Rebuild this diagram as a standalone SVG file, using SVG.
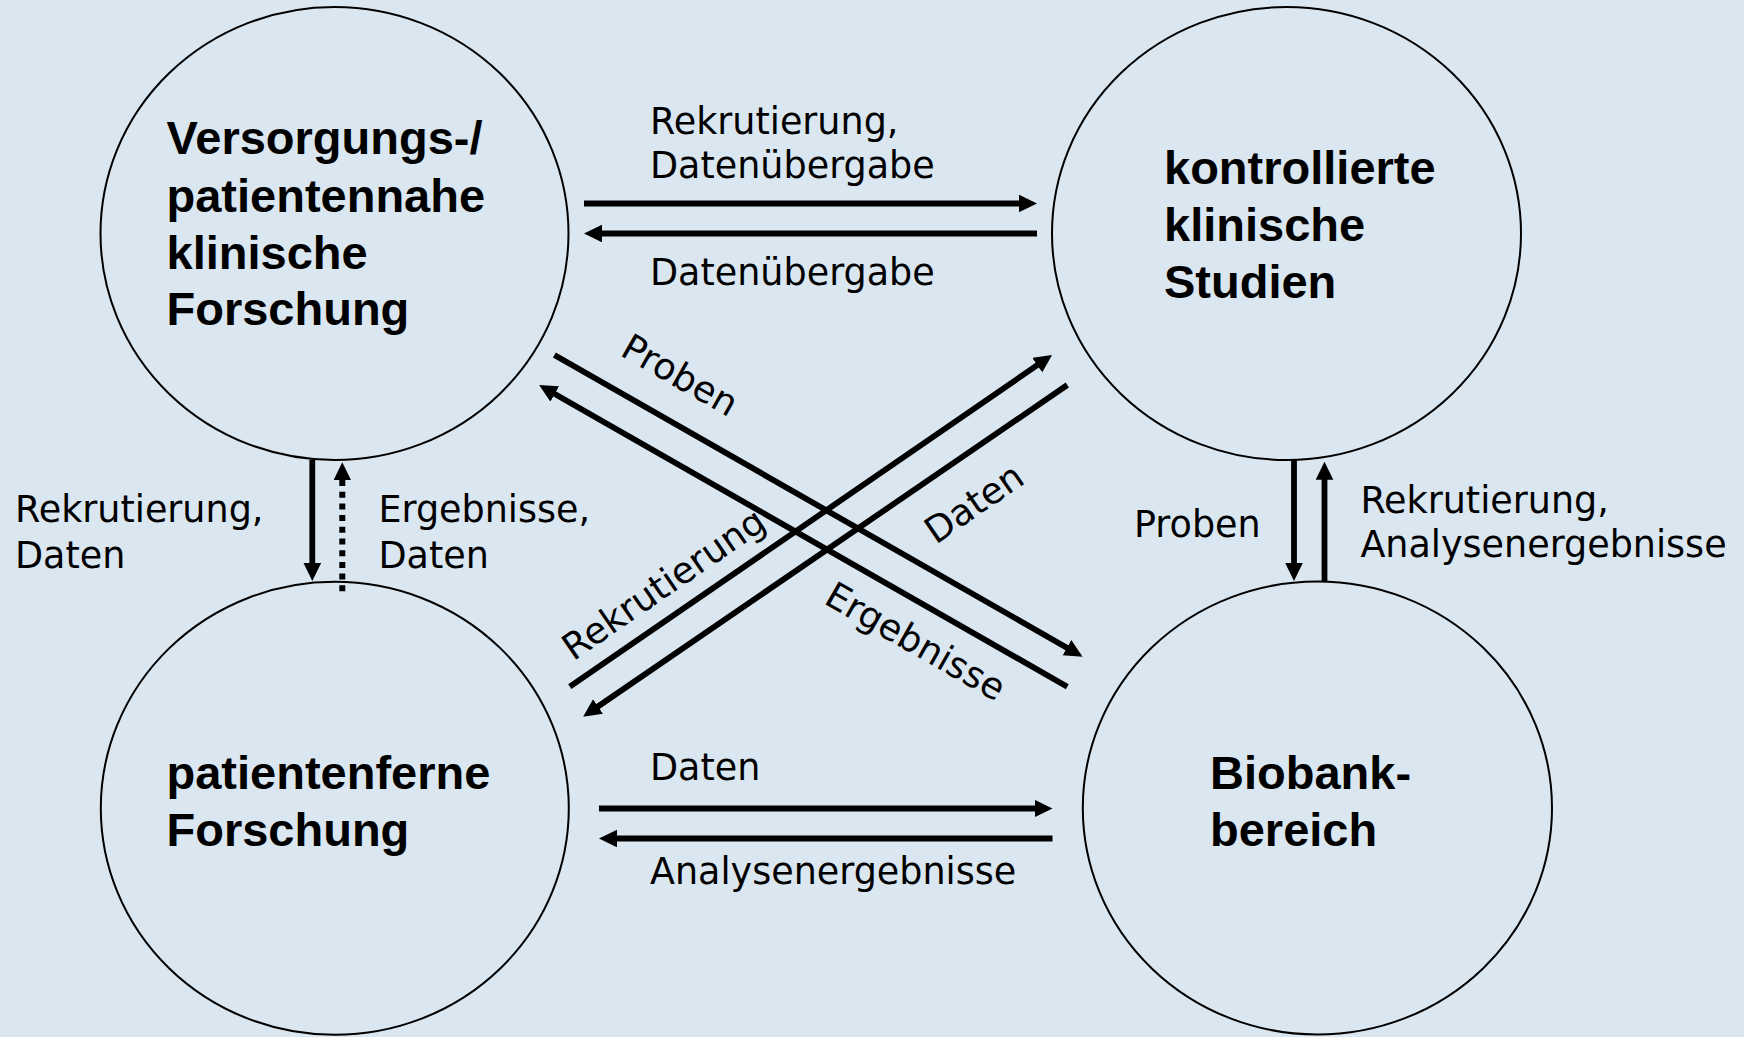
<svg xmlns="http://www.w3.org/2000/svg" width="1744" height="1037" viewBox="0 0 1744 1037">
  <defs>
    <style>
      .node { fill: none; stroke: #000; stroke-width: 2; }
      .title { font-family: "Liberation Sans", Arial, sans-serif; font-weight: bold; font-size: 47px; fill: #000; }
      .lbl { font-family: "DejaVu Sans", Verdana, sans-serif; font-size: 36.5px; fill: #000; }
      .edge { fill: none; stroke: #000; stroke-width: 5.8; marker-end: url(#ah); }
      .dotted { stroke-width: 6; stroke-dasharray: 6 5.7; }
    </style>
    <marker id="ah" markerUnits="userSpaceOnUse" markerWidth="20" markerHeight="20" refX="8" refY="8.8" orient="auto">
      <path d="M0,0 L18,8.8 L0,17.6 Z" fill="#000"/>
    </marker>
  </defs>

  <rect width="1744" height="1037" fill="#dae6f0"/>

  <!-- nodes -->
  <g id="node-versorgung">
    <ellipse class="node" cx="334.5" cy="233.5" rx="234" ry="226.5"/>
    <text class="title" x="166.5"><tspan x="166.5" y="154">Versorgungs-/</tspan><tspan x="166.5" y="211.5">patientennahe</tspan><tspan x="166.5" y="268.5">klinische</tspan><tspan x="166.5" y="325">Forschung</tspan></text>
  </g>
  <g id="node-studien">
    <ellipse class="node" cx="1286.5" cy="233.5" rx="234.5" ry="226.5"/>
    <text class="title"><tspan x="1164" y="184">kontrollierte</tspan><tspan x="1164" y="240.5">klinische</tspan><tspan x="1164" y="298">Studien</tspan></text>
  </g>
  <g id="node-patientenfern">
    <ellipse class="node" cx="334.8" cy="808.3" rx="234" ry="226.5"/>
    <text class="title"><tspan x="166.5" y="789">patientenferne</tspan><tspan x="166.5" y="846">Forschung</tspan></text>
  </g>
  <g id="node-biobank">
    <ellipse class="node" cx="1317.4" cy="808" rx="234.6" ry="226.5"/>
    <text class="title"><tspan x="1210" y="789">Biobank-</tspan><tspan x="1210" y="846">bereich</tspan></text>
  </g>

  <!-- connectors -->
  <g id="connectors">
    <!-- top pair -->
    <line class="edge" x1="584" y1="203.5" x2="1027" y2="203.5"/>
    <line class="edge" x1="1037" y1="233.5" x2="594" y2="233.5"/>
    <!-- bottom pair -->
    <line class="edge" x1="599" y1="808.5" x2="1042.5" y2="808.5"/>
    <line class="edge" x1="1052.5" y1="838.5" x2="609" y2="838.5"/>
    <!-- left pair -->
    <line class="edge" x1="312.3" y1="460" x2="312.3" y2="571"/>
    <path class="edge dotted" d="M342.3,591.3 V472.3"/>
    <!-- right pair -->
    <line class="edge" x1="1294" y1="460" x2="1294" y2="571"/>
    <line class="edge" x1="1324.5" y1="582" x2="1324.5" y2="471.7"/>
    <!-- diagonals -->
    <line class="edge" x1="554.4" y1="355" x2="1073.9" y2="651.7"/>
    <line class="edge" x1="1067.3" y1="686.7" x2="547.8" y2="390"/>
    <line class="edge" x1="569.8" y1="686.7" x2="1043.8" y2="360.7"/>
    <line class="edge" x1="1067.3" y1="385" x2="591.4" y2="711"/>

    <!-- labels -->
    <text class="lbl"><tspan x="650" y="134">Rekrutierung,</tspan><tspan x="650" y="178">Datenübergabe</tspan></text>
    <text class="lbl" x="650" y="285">Datenübergabe</text>
    <text class="lbl" x="650" y="780">Daten</text>
    <text class="lbl" x="650" y="884">Analysenergebnisse</text>
    <text class="lbl"><tspan x="15" y="522">Rekrutierung,</tspan><tspan x="15" y="567.5">Daten</tspan></text>
    <text class="lbl"><tspan x="378.5" y="522">Ergebnisse,</tspan><tspan x="378.5" y="567.5">Daten</tspan></text>
    <text class="lbl" x="1134" y="537.3">Proben</text>
    <text class="lbl"><tspan x="1360.4" y="512.7">Rekrutierung,</tspan><tspan x="1360.4" y="557.3">Analysenergebnisse</tspan></text>
    <text class="lbl" text-anchor="middle" transform="translate(680.7 374) rotate(29.7)" y="13.9">Proben</text>
    <text class="lbl" text-anchor="middle" transform="translate(914 644) rotate(29.7)" y="9.5">Ergebnisse</text>
    <text class="lbl" text-anchor="middle" transform="translate(665.4 586.5) rotate(-34.5)" y="9.5">Rekrutierung</text>
    <text class="lbl" text-anchor="middle" transform="translate(973.5 502.5) rotate(-34.5)" y="13.5">Daten</text>
  </g>
</svg>
